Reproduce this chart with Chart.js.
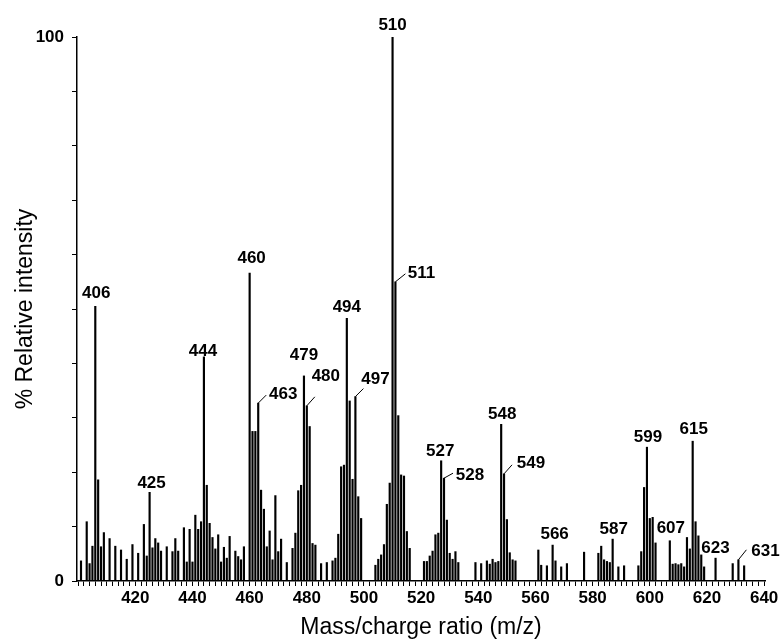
<!DOCTYPE html>
<html>
<head>
<meta charset="utf-8">
<script src="https://cdn.jsdelivr.net/npm/chart.js@4.4.0/dist/chart.umd.min.js"></script>
<style>
  html, body { margin: 0; padding: 0; background: #fff; }
  #wrap { width: 782px; height: 641px; }
</style>
</head>
<body>
<div id="wrap"><canvas id="spectrum"></canvas></div>
<script>
// mass spectrum sticks (m/z, % relative intensity)
const mz = [
  401, 403, 404, 405, 406, 407, 408, 409, 411, 413, 415, 417, 419, 421, 423, 424, 425, 426, 427, 428, 429,
  431, 433, 434, 435, 437, 438, 439, 440, 441, 442, 443, 444, 445, 446, 447, 448, 449, 450, 451, 452, 453,
  455, 456, 457, 458, 460, 461, 462, 463, 464, 465, 466, 467, 468, 469, 470, 471, 473, 475, 476, 477, 478,
  479, 480, 481, 482, 483, 485, 487, 489, 490, 491, 492, 493, 494, 495, 496, 497, 498, 499,
  504, 505, 506, 507, 508, 509, 510, 511, 512, 513, 514, 515, 516,
  521, 522, 523, 524, 525, 526, 527, 528, 529, 530, 531, 532, 533,
  539, 541, 543, 544, 545, 546, 547, 548, 549, 550, 551, 552, 553,
  561, 562, 564, 566, 567, 569, 571, 577, 582, 583, 584, 585, 586, 587, 589, 591,
  596, 597, 598, 599, 600, 601, 602, 607, 608, 609, 610, 611, 612, 613, 614, 615, 616, 617, 618, 619,
  623, 629, 631, 633
];
const intensity = [
  3.7, 10.9, 3.2, 6.4, 50.5, 18.6, 6.3, 8.9, 7.8, 6.4, 5.7, 4.0, 6.7, 5.1, 10.4, 4.6, 16.3, 6.1, 7.8, 7.0, 5.5,
  6.3, 5.4, 7.8, 5.5, 9.8, 3.5, 9.5, 3.5, 12.1, 9.5, 10.9, 41.2, 17.6, 10.6, 8.0, 5.9, 8.5, 3.5, 6.2, 4.2, 8.2,
  5.5, 4.5, 3.9, 6.3, 56.6, 27.5, 27.5, 32.7, 16.7, 13.2, 6.3, 9.2, 3.9, 15.7, 5.4, 7.7, 3.4, 6.0, 8.8, 16.6, 17.6,
  37.7, 32.2, 28.4, 6.9, 6.6, 3.2, 3.4, 3.7, 4.2, 8.6, 21.0, 21.3, 48.3, 33.1, 18.7, 33.9, 15.5, 11.5,
  2.9, 4.0, 4.8, 6.7, 14.1, 18.0, 100, 55.0, 30.4, 19.5, 19.3, 9.1, 6.0,
  3.6, 3.6, 4.6, 5.5, 8.5, 8.8, 22.1, 18.9, 11.2, 5.1, 4.0, 5.4, 3.4,
  3.4, 3.2, 3.7, 3.1, 4.0, 3.4, 3.6, 28.8, 19.7, 11.3, 5.2, 3.9, 3.7,
  5.7, 2.9, 2.8, 6.6, 3.7, 2.6, 3.2, 5.3, 5.1, 6.4, 3.9, 3.6, 3.4, 7.7, 2.6, 2.8,
  2.8, 5.4, 17.2, 24.6, 11.5, 11.7, 7.0, 7.4, 3.1, 3.2, 3.0, 3.2, 2.6, 8.0, 5.9, 25.7, 10.9, 8.3, 4.8, 2.6,
  4.2, 3.2, 3.9, 2.8
];

// peaks that carry an m/z label
const labelledPeaks = [406, 425, 444, 460, 463, 479, 480, 494, 497, 510, 511, 527, 528, 548, 549, 566, 587, 599, 607, 615, 623, 631];

// tick labels
const xTickLabels = [420, 440, 460, 480, 500, 520, 540, 560, 580, 600, 620, 640];
const yTickLabels = [0, 100];

// where each label sits relative to the top of its stick (px), leader = short slanted line
const labelPlacement = {
  406: { dx: 1, dy: -13 },
  425: { dx: 2, dy: -9 },
  444: { dx: -1, dy: -6 },
  460: { dx: 2, dy: -15 },
  463: { dx: 25, dy: -9, leader: [8, -8] },
  479: { dx: 0, dy: -21 },
  480: { dx: 19, dy: -30, leader: [8, -9] },
  494: { dx: 0, dy: -11 },
  497: { dx: 20, dy: -17, leader: [8, -8] },
  510: { dx: 0, dy: -12 },
  511: { dx: 26, dy: -8, leader: [10, -8] },
  527: { dx: -1, dy: -9 },
  528: { dx: 26, dy: -3, leader: [9, -5] },
  548: { dx: 1, dy: -10 },
  549: { dx: 27, dy: -11, leader: [8, -9] },
  566: { dx: 2, dy: -11 },
  587: { dx: 1, dy: -10 },
  599: { dx: 1, dy: -10 },
  607: { dx: 1, dy: -12 },
  615: { dx: 1, dy: -12 },
  623: { dx: 0, dy: -10 },
  631: { dx: 27, dy: -8, leader: [8, -10] }
};

const FONT = '"Liberation Sans", Arial, Helvetica, sans-serif';

const peakLabels = {
  id: 'peakLabels',
  afterDatasetsDraw(chart) {
    const ctx = chart.ctx;
    const meta = chart.getDatasetMeta(0);
    ctx.save();
    ctx.font = 'bold 17px ' + FONT;
    ctx.fillStyle = '#000';
    ctx.strokeStyle = '#000';
    ctx.lineWidth = 1;
    ctx.textAlign = 'center';
    ctx.textBaseline = 'middle';
    labelledPeaks.forEach(p => {
      const bar = meta.data[mz.indexOf(p)];
      if (!bar) return;
      const place = labelPlacement[p];
      if (place.leader) {
        ctx.beginPath();
        ctx.moveTo(bar.x, bar.y);
        ctx.lineTo(bar.x + place.leader[0], bar.y + place.leader[1]);
        ctx.stroke();
      }
      ctx.fillText(String(p), bar.x + place.dx, bar.y + place.dy);
    });
    ctx.restore();
  }
};

const ctx = document.getElementById('spectrum').getContext('2d');
new Chart(ctx, {
  type: 'bar',
  data: {
    datasets: [{
      data: mz.map((m, i) => ({ x: m, y: intensity[i] })),
      backgroundColor: '#000',
      borderWidth: 0,
      barThickness: 1.5
    }]
  },
  options: {
    responsive: true,
    maintainAspectRatio: false,
    animation: false,
    layout: { padding: { left: 0, top: 37, right: 17, bottom: 0 } },
    plugins: {
      legend: { display: false },
      tooltip: { enabled: false }
    },
    scales: {
      x: {
        type: 'linear',
        min: 399.6,
        max: 640.3,
        offset: false,
        grid: { offset: false, drawOnChartArea: false, drawTicks: true, tickLength: 5, color: '#000', tickColor: '#000' },
        border: { display: true, color: '#000', width: 1.5 },
        afterBuildTicks: scale => {
          const t = [];
          for (let v = 400; v <= 640; v += 2) t.push({ value: v });
          scale.ticks = t;
        },
        afterFit: scale => { scale.height = 60; },
        ticks: {
          autoSkip: false,
          maxRotation: 0,
          minRotation: 0,
          padding: 2,
          color: '#000',
          font: { family: FONT, size: 17, weight: 'bold' },
          callback: v => xTickLabels.includes(v) ? String(v) : ''
        },
        title: {
          display: true,
          text: 'Mass/charge ratio (m/z)',
          color: '#000',
          font: { family: FONT, size: 23, lineHeight: 1 },
          padding: { top: 0, bottom: 1.5 }
        }
      },
      y: {
        min: 0,
        max: 100,
        grid: { drawOnChartArea: false, drawTicks: true, tickLength: 5, color: '#000', tickColor: '#000' },
        border: { display: true, color: '#000', width: 1.5 },
        afterBuildTicks: scale => {
          const t = [];
          for (let v = 0; v <= 100; v += 10) t.push({ value: v });
          scale.ticks = t;
        },
        afterFit: scale => { scale.width = 77; },
        ticks: {
          autoSkip: false,
          padding: 8,
          color: '#000',
          font: { family: FONT, size: 17, weight: 'bold' },
          callback: v => yTickLabels.includes(v) ? String(v) : ''
        },
        title: {
          display: true,
          text: '% Relative intensity',
          color: '#000',
          font: { family: FONT, size: 23, lineHeight: 1 },
          padding: { top: 14, bottom: 0 }
        }
      }
    }
  },
  plugins: [peakLabels]
});
</script>
</body>
</html>
